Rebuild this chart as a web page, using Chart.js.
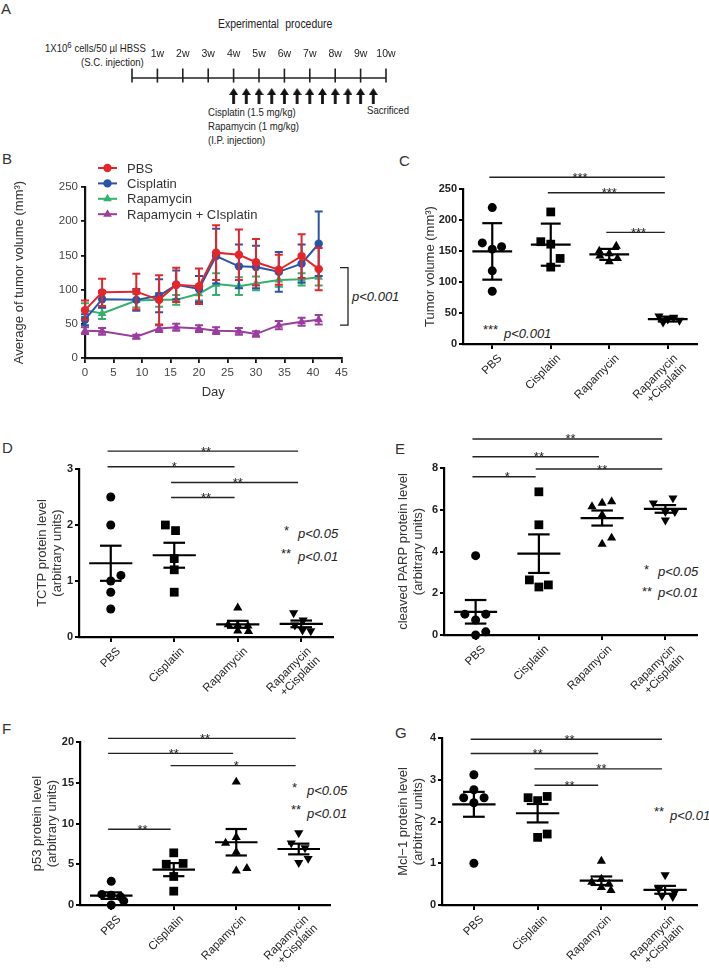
<!DOCTYPE html>
<html>
<head>
<meta charset="utf-8">
<title>Tumor volume and protein levels</title>
<script src="https://cdn.jsdelivr.net/npm/chart.js@4.4.1/dist/chart.umd.min.js"></script>
<style>
  body { margin:0; width:709px; height:971px; position:relative; background:#fff; overflow:hidden;
         font-family:"Liberation Sans", Arial, sans-serif; color:#222; }
  canvas { position:absolute; }
  .txt { position:absolute; white-space:nowrap; line-height:1; font-size:11px; transform:scaleX(0.87); transform-origin:left top; }
  .lbl { position:absolute; font-size:15px; line-height:1; color:#333; }
  .st { position:absolute; font-size:13px; line-height:1; }
  .p { position:absolute; font-size:13px; line-height:1; font-style:italic; }
</style>
</head>
<body>
<div class="lbl" style="left:1px;top:1px">A</div>
<div class="lbl" style="left:2px;top:151px">B</div>
<div class="lbl" style="left:399px;top:153px">C</div>
<div class="lbl" style="left:2px;top:440px">D</div>
<div class="lbl" style="left:395px;top:441px">E</div>
<div class="lbl" style="left:2px;top:721px">F</div>
<div class="lbl" style="left:395px;top:725px">G</div>

<div class="txt" style="left:218px;top:18px;font-size:12px;word-spacing:4px">Experimental procedure</div>
<div class="txt" style="left:45px;top:43px">1X10<span style="position:relative;top:-4px;font-size:9px">6</span> cells/50 µl HBSS</div>
<div class="txt" style="left:81px;top:57px">(S.C. injection)</div>
<div class="txt" style="left:208px;top:107px">Cisplatin (1.5 mg/kg)</div>
<div class="txt" style="left:208px;top:121px">Rapamycin (1 mg/kg)</div>
<div class="txt" style="left:208px;top:135px">(I.P. injection)</div>
<div class="txt" style="left:367px;top:105px">Sacrificed</div>

<div class="p" style="left:352px;top:290px">p&lt;0.001</div>
<div class="st" style="left:483px;top:323px">***</div>
<div class="p" style="left:504px;top:327px">p&lt;0.001</div>
<div class="st" style="left:284px;top:524px">*</div>
<div class="p" style="left:298px;top:527px">p&lt;0.05</div>
<div class="st" style="left:281px;top:547px">**</div>
<div class="p" style="left:298px;top:550px">p&lt;0.01</div>
<div class="st" style="left:644px;top:563px">*</div>
<div class="p" style="left:658px;top:565px">p&lt;0.05</div>
<div class="st" style="left:642px;top:585px">**</div>
<div class="p" style="left:658px;top:586px">p&lt;0.01</div>
<div class="st" style="left:292px;top:781px">*</div>
<div class="p" style="left:307px;top:784px">p&lt;0.05</div>
<div class="st" style="left:291px;top:803px">**</div>
<div class="p" style="left:307px;top:807px">p&lt;0.01</div>
<div class="st" style="left:654px;top:805px">**</div>
<div class="p" style="left:670px;top:809px">p&lt;0.01</div>

<script>
// Panel A: schedule
const weeks = [0, 1, 2, 3, 4, 5, 6, 7, 8, 9, 10];
const doseWeeks = [4, 4.5, 5, 5.5, 6, 6.5, 7, 7.5, 8, 8.5, 9, 9.5];

// Panel B: tumour growth (mean, error)
const days = [0, 3, 9, 13, 16, 20, 23, 27, 30, 34, 38, 41];
const pbsMean = [70, 96, 97, 85, 107, 105, 154, 151, 140, 129, 149, 130];
const pbsErr = [14, 20, 26, 36, 25, 26, 40, 37, 34, 22, 32, 31];
const cisMean = [56, 86, 85, 91, 107, 101, 149, 134, 133, 126, 138, 167];
const cisErr = [8, 12, 16, 24, 21, 19, 40, 32, 31, 29, 28, 47];
const rapMean = [70, 65, 84, 85, 85, 94, 108, 105, 109, 114, 115, 118];
const rapErr = [10, 8, 10, 10, 7, 10, 16, 13, 10, 10, 9, 12];
const comboMean = [40, 39, 31, 43, 45, 43, 40, 39, 35, 48, 53, 56];
const comboErr = [5, 5, 3, 5, 5, 5, 5, 5, 4, 6, 6, 7];
const bracketRange = [48, 132];

// Panels C-G: groups
const groupLabels = ['PBS', 'Cisplatin', 'Rapamycin', ['Rapamycin', '+Cisplatin']];

// C: tumour volume (mean ± SD)
const volPBS = [220, 163, 153, 157, 118, 85];
const volCis = [213, 165, 161, 138, 124];
const volRap = [158, 150, 146, 142, 138, 133];
const volCombo = [45, 43, 40, 38, 35];
const jitVol = [[0, -0.17, 0, 0.16, 0, 0], [0, -0.17, 0, 0.16, 0], [0.12, -0.17, 0, -0.16, 0.14, 0], [-0.15, 0.1, 0, 0.2, -0.08]];
const sigFromC = [0, 1, 2], sigToC = [3, 3, 3], sigAtC = [269, 244, 180], sigStarsC = ['***', '***', '***'];

// D: TCTP (mean ± SEM)
const tctpPBS = [2.5, 2.0, 1.1, 1.0, 0.8, 0.5];
const tctpCis = [2.0, 1.9, 1.4, 1.2, 0.8];
const tctpRap = [0.52, 0.22, 0.21, 0.2, 0.11, 0.1];
const tctpCombo = [0.43, 0.3, 0.21, 0.12, 0.11];
const jitTctp = [[0, 0, 0.16, 0, 0, 0], [-0.14, 0.02, 0, 0, 0], [0, -0.15, 0, 0.16, 0, 0.17], [-0.12, 0.03, -0.1, 0.02, 0.15]];
const sigFromD = [0, 0, 1, 1], sigToD = [3, 2, 3, 2], sigAtD = [3.32, 3.04, 2.76, 2.49], sigStarsD = ['**', '*', '**', '**'];

// E: cleaved PARP
const parpPBS = [3.8, 1.0, 0.72, 1.0, 0.0, 0.15];
const parpCis = [6.86, 5.28, 2.64, 2.3, 2.4];
const parpRap = [6.15, 6.32, 6.39, 5.75, 4.65, 4.36];
const parpCombo = [6.32, 6.56, 5.91, 5.91, 5.5];
const jitParp = [[0, -0.17, 0, 0.16, 0, 0.16], [0, 0, -0.15, 0, 0.15], [-0.16, 0, 0.15, 0, 0.15, 0], [-0.19, 0.12, 0, 0.15, 0]];
const sigFromE = [0, 0, 1, 0], sigToE = [3, 2, 3, 1], sigAtE = [9.39, 8.54, 7.95, 7.58], sigStarsE = ['**', '**', '**', '*'];

// F: p53
const p53PBS = [2.9, 1.3, 1.2, 1.0, 0.5, 0.0];
const p53Cis = [6.4, 5.0, 5.1, 3.5, 1.7];
const p53Rap = [15.1, 8.3, 7.6, 6.5, 4.5, 4.2];
const p53Combo = [8.85, 7.6, 7.0, 5.7, 5.2];
const jitP53 = [[0, -0.15, 0, 0.15, 0.2, 0], [0, -0.12, 0.15, 0, 0], [0, 0, -0.17, 0, 0.17, 0], [0, -0.12, 0.1, 0.15, 0]];
const sigFromF = [0, 0, 1, 0], sigToF = [3, 2, 3, 1], sigAtF = [20.45, 18.6, 17.1, 9.29], sigStarsF = ['**', '**', '*', '**'];

// G: Mcl-1
const mclPBS = [3.12, 2.76, 2.57, 2.57, 2.45, 1.0];
const mclCis = [2.57, 2.5, 2.6, 1.7, 1.62];
const mclRap = [1.05, 0.62, 0.55, 0.5, 0.42, 0.35];
const mclCombo = [0.72, 0.38, 0.3, 0.22, 0.2];
const jitMcl = [[0, 0, -0.16, 0.16, 0, 0], [-0.15, 0, 0.15, 0.15, 0], [0, 0, -0.15, 0.12, 0, 0.15], [0, -0.1, 0.15, -0.05, 0.12]];
const sigFromG = [0, 0, 1, 1], sigToG = [3, 2, 3, 2], sigAtG = [3.97, 3.63, 3.26, 2.87], sigStarsG = ['**', '**', '**', '**'];

const FONT = '"Liberation Sans", Arial, sans-serif';
Chart.defaults.font.family = FONT;
Chart.defaults.color = '#333';
Chart.defaults.animation = false;
Chart.defaults.responsive = false;
Chart.defaults.plugins.legend.display = false;
Chart.defaults.plugins.tooltip.enabled = false;

function place(box) {
  const c = document.createElement('canvas');
  c.width = box.width; c.height = box.height;
  c.style.left = box.left + 'px'; c.style.top = box.top + 'px';
  c.style.width = box.width + 'px'; c.style.height = box.height + 'px';
  document.body.appendChild(c);
  return c;
}
function mean(a) { return a.reduce((s, v) => s + v, 0) / a.length; }
function sd(a) { const m = mean(a); return Math.sqrt(a.reduce((s, v) => s + (v - m) * (v - m), 0) / (a.length - 1)); }
function seg(ctx, x1, y1, x2, y2) { ctx.beginPath(); ctx.moveTo(x1, y1); ctx.lineTo(x2, y2); ctx.stroke(); }

// ---------- A ----------
function arrowImg() {
  const c = document.createElement('canvas');
  c.width = 9; c.height = 16;
  const g = c.getContext('2d');
  g.fillStyle = '#111';
  g.beginPath();
  g.moveTo(4.5, 0); g.lineTo(9, 7); g.lineTo(5.9, 7); g.lineTo(5.9, 16);
  g.lineTo(3.1, 16); g.lineTo(3.1, 7); g.lineTo(0, 7); g.closePath(); g.fill();
  return c;
}
new Chart(place({left: 0, top: 40, width: 450, height: 80}), {
  type: 'scatter',
  data: { datasets: [
    { type: 'line', data: [{x: weeks[0], y: 0}, {x: weeks[weeks.length - 1], y: 0}],
      borderColor: '#222', borderWidth: 1.6, pointRadius: 0, clip: false },
    { data: weeks.map(w => ({x: w, y: 0.3})), pointStyle: 'line', rotation: 90, pointRadius: 7,
      borderColor: '#222', borderWidth: 1.6, clip: false },
    { data: doseWeeks.map(w => ({x: w, y: -2.25})), pointStyle: arrowImg(), clip: false }
  ]},
  options: {
    layout: { padding: { left: 132, right: 64, top: 0, bottom: 14 } },
    scales: {
      x: { type: 'linear', position: 'top', min: 0, max: 10,
           afterFit: s => { s.height = 28; },
           grid: { display: false }, border: { display: false },
           ticks: { stepSize: 1, padding: 0, font: { size: 10.5 }, color: '#222', autoSkip: false,
                    maxRotation: 0, minRotation: 0, callback: v => v ? v + 'w' : '' } },
      y: { display: false, min: -3.5, max: 1.25 }
    }
  }
});

// ---------- B ----------
const RED = '#e3262c', BLUE = '#2a55a6', GREEN = '#33b06e', PURPLE = '#9a3e9e';
function series(label, mean, err, color, style) {
  return { label, data: days.map((d, i) => ({x: d, y: mean[i]})), err,
           borderColor: color, backgroundColor: color, pointStyle: style,
           pointRadius: style === 'circle' ? 4.2 : 5, borderWidth: 2, pointBorderWidth: 0, clip: false };
}
function marker(ctx, style, x, y, r) {
  ctx.beginPath();
  if (style === 'circle') ctx.arc(x, y, r, 0, Math.PI * 2);
  else { ctx.moveTo(x, y - r); ctx.lineTo(x + r * 0.866, y + r / 2); ctx.lineTo(x - r * 0.866, y + r / 2); ctx.closePath(); }
  ctx.fill();
}
const bPlugin = {
  id: 'bExtras',
  afterDatasetDraw(chart, args) {
    const ds = chart.data.datasets[args.index];
    const {ctx, scales: {x, y}} = chart;
    ctx.save(); ctx.strokeStyle = ds.borderColor; ctx.lineWidth = 2;
    ds.data.forEach((p, i) => {
      const cx = x.getPixelForValue(p.x);
      const t = y.getPixelForValue(p.y + ds.err[i]), b = y.getPixelForValue(p.y - ds.err[i]);
      ctx.beginPath();
      ctx.moveTo(cx, t); ctx.lineTo(cx, b);
      ctx.moveTo(cx - 4, t); ctx.lineTo(cx + 4, t);
      ctx.moveTo(cx - 4, b); ctx.lineTo(cx + 4, b);
      ctx.stroke();
    });
    ctx.restore();
  },
  afterDraw(chart) {
    const {ctx, chartArea, scales: {y}} = chart;
    ctx.save();
    chart.data.datasets.forEach((ds, i) => {
      const yy = 18 + i * 15.4;
      ctx.strokeStyle = ds.borderColor; ctx.fillStyle = ds.borderColor; ctx.lineWidth = 2;
      seg(ctx, 98, yy, 117, yy);
      marker(ctx, ds.pointStyle, 107.5, yy, ds.pointRadius);
      ctx.fillStyle = '#333'; ctx.font = '13px ' + FONT; ctx.textBaseline = 'middle';
      ctx.fillText(ds.label, 127, yy + 1);
    });
    const bx = chartArea.right + 6.5;
    const y0 = y.getPixelForValue(bracketRange[0]), y1 = y.getPixelForValue(bracketRange[1]);
    ctx.strokeStyle = '#222'; ctx.lineWidth = 1.3;
    ctx.beginPath(); ctx.moveTo(bx - 8, y1); ctx.lineTo(bx, y1); ctx.lineTo(bx, y0); ctx.lineTo(bx - 8, y0); ctx.stroke();
    ctx.restore();
  }
};
new Chart(place({left: 0, top: 150, width: 400, height: 250}), {
  type: 'line',
  data: { datasets: [
    series('PBS', pbsMean, pbsErr, RED, 'circle'),
    series('Cisplatin', cisMean, cisErr, BLUE, 'circle'),
    series('Rapamycin', rapMean, rapErr, GREEN, 'triangle'),
    series('Rapamycin + CIsplatin', comboMean, comboErr, PURPLE, 'triangle')
  ]},
  options: {
    layout: { padding: { left: 0, top: 37, right: 58.5, bottom: 0 } },
    scales: {
      x: { type: 'linear', min: 0, max: 45, afterFit: s => { s.height = 42; },
           ticks: { stepSize: 5, font: { size: 11.5 }, color: '#444', padding: 3 },
           grid: { drawOnChartArea: false, tickLength: 5, color: '#111', lineWidth: 1.8 },
           border: { color: '#111', width: 2.2 },
           title: { display: true, text: 'Day', font: { size: 13 }, color: '#333', padding: { top: 0, bottom: 0 } } },
      y: { min: 0, max: 250, afterFit: s => { s.width = 85; },
           ticks: { stepSize: 50, font: { size: 11.5 }, color: '#444', padding: 3 },
           grid: { drawOnChartArea: false, tickLength: 4, color: '#111', lineWidth: 1.8 },
           border: { color: '#111', width: 2.2 },
           title: { display: true, text: 'Average of tumor volume (mm³)', font: { size: 13 }, color: '#333', padding: { top: 12 } } }
    }
  },
  plugins: [bPlugin]
});

// ---------- C-G dot plots ----------
const shapes = ['circle', 'rect', 'triangle', 'triangle'];
const turns = [0, 0, 0, 180];
const sizes = [4.5, 6.2, 5.3, 5.3];
function dotPlot(box, area, cfg) {
  const datasets = cfg.values.map((vals, g) => ({
    data: vals.map((v, k) => ({x: g + cfg.jitter[g][k], y: v})),
    pointStyle: shapes[g], rotation: turns[g], pointRadius: sizes[g],
    backgroundColor: '#000', borderColor: '#000', pointBorderWidth: 0, clip: false
  }));
  const extras = {
    id: 'dotExtras',
    afterDatasetsDraw(chart) {
      const {ctx, scales: {x, y}} = chart;
      const px = v => x.getPixelForValue(v), py = v => y.getPixelForValue(v);
      ctx.save();
      ctx.strokeStyle = '#000'; ctx.lineWidth = 2.2;
      cfg.values.forEach((vals, g) => {
        const m = mean(vals);
        const e = cfg.useSD ? sd(vals) : sd(vals) / Math.sqrt(vals.length);
        const c = px(g), half = px(g + 0.34) - c, cap = px(g + 0.17) - c;
        seg(ctx, c - half, py(m), c + half, py(m));
        seg(ctx, c, py(m - e), c, py(m + e));
        seg(ctx, c - cap, py(m + e), c + cap, py(m + e));
        seg(ctx, c - cap, py(m - e), c + cap, py(m - e));
      });
      ctx.lineWidth = 1.4; ctx.strokeStyle = '#222'; ctx.fillStyle = '#222';
      ctx.font = '13px ' + FONT; ctx.textAlign = 'center'; ctx.textBaseline = 'alphabetic';
      cfg.sigFrom.forEach((a, k) => {
        const b = cfg.sigTo[k], yy = py(cfg.sigAt[k]);
        seg(ctx, px(a - 0.05), yy, px(b - 0.05), yy);
        ctx.fillText(cfg.sigStars[k], (px(a) + px(b)) / 2, yy + 4.5);
      });
      ctx.restore();
    }
  };
  new Chart(place(box), {
    type: 'scatter',
    data: { datasets },
    options: {
      layout: { padding: { left: 0, top: area.top - box.top, right: box.left + box.width - area.right, bottom: 0 } },
      scales: {
        x: { type: 'linear', min: -0.5, max: 3.5,
             afterBuildTicks: s => { s.ticks = [0, 1, 2, 3].map(v => ({value: v})); },
             afterFit: s => { s.height = box.top + box.height - area.bottom; },
             ticks: { autoSkip: false, maxRotation: 45, minRotation: 45, font: { size: 11.5, lineHeight: 1.1 }, color: '#222',
                      padding: 3, labelOffset: 8, callback: v => groupLabels[v] },
             grid: { drawOnChartArea: false, tickLength: 5, color: '#000', lineWidth: 2 },
             border: { color: '#000', width: 2.2 } },
        y: { min: 0, max: cfg.max, afterFit: s => { s.width = area.left - box.left; },
             ticks: { stepSize: cfg.step, font: { size: 11, weight: 'bold' }, color: '#222', padding: 2 },
             grid: { drawOnChartArea: false, tickLength: 4, color: '#000', lineWidth: 2 },
             border: { color: '#000', width: 2.2 },
             title: { display: true, text: cfg.title, color: '#333', font: { size: 13, lineHeight: 1.15 },
                      padding: { top: cfg.titlePad } } }
      }
    },
    plugins: [extras]
  });
}

dotPlot({left: 360, top: 150, width: 349, height: 262}, {left: 463, top: 189, right: 697, bottom: 344}, {
  values: [volPBS, volCis, volRap, volCombo], jitter: jitVol, useSD: true, max: 250, step: 50,
  title: 'Tumor volume (mm³)', titlePad: 62.5,
  sigFrom: sigFromC, sigTo: sigToC, sigAt: sigAtC, sigStars: sigStarsC
});
dotPlot({left: 0, top: 430, width: 350, height: 268}, {left: 79, top: 469, right: 333, bottom: 637}, {
  values: [tctpPBS, tctpCis, tctpRap, tctpCombo], jitter: jitTctp, max: 3, step: 1,
  title: ['TCTP protein level', '(arbitrary units)'], titlePad: 34.5,
  sigFrom: sigFromD, sigTo: sigToD, sigAt: sigAtD, sigStars: sigStarsD
});
dotPlot({left: 355, top: 425, width: 354, height: 273}, {left: 444, top: 468, right: 697, bottom: 635}, {
  values: [parpPBS, parpCis, parpRap, parpCombo], jitter: jitParp, max: 8, step: 2,
  title: ['cleaved PARP protein level', '(arbitrary units)'], titlePad: 40.5,
  sigFrom: sigFromE, sigTo: sigToE, sigAt: sigAtE, sigStars: sigStarsE
});
dotPlot({left: 0, top: 700, width: 350, height: 271}, {left: 80, top: 742, right: 330, bottom: 905}, {
  values: [p53PBS, p53Cis, p53Rap, p53Combo], jitter: jitP53, max: 20, step: 5,
  title: ['p53 protein level', '(arbitrary units)'], titlePad: 29.5,
  sigFrom: sigFromF, sigTo: sigToF, sigAt: sigAtF, sigStars: sigStarsF
});
dotPlot({left: 355, top: 700, width: 354, height: 271}, {left: 442, top: 738, right: 697, bottom: 905}, {
  values: [mclPBS, mclCis, mclRap, mclCombo], jitter: jitMcl, max: 4, step: 1,
  title: ['Mcl−1 protein level', '(arbitrary units)'], titlePad: 40.5,
  sigFrom: sigFromG, sigTo: sigToG, sigAt: sigAtG, sigStars: sigStarsG
});
</script>
</body>
</html>
